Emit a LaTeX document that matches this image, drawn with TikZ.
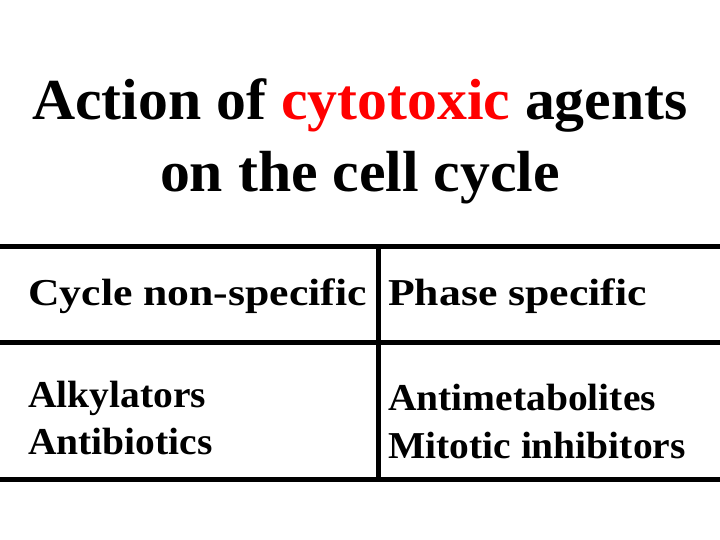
\documentclass[tikz,border=0pt]{standalone}
\usepackage{fontspec}
\setmainfont{Liberation Serif}
\begin{document}
\begin{tikzpicture}[x=1pt,y=-1pt,
  lbl/.style={anchor=base west,inner sep=0pt,font=\bfseries\fontsize{38}{40}\selectfont,xscale=1.04},
  head/.style={lbl,xscale=1.15/1.04},
  ttl/.style={anchor=base,inner sep=0pt,font=\bfseries\fontsize{58}{60}\selectfont,xscale=1.03},
  rule/.style={line width=5pt}]
\useasboundingbox[fill=white] (0,0) rectangle (720,540);
\node[ttl] (t1) at (360,120) {Action of \textcolor{red}{cytotoxic} agents};
\node[ttl] (t2) at (360,192) {on the cell cycle};
\coordinate (l1) at (0,246); \coordinate (r1) at (720,246);
\coordinate (l2) at (0,342); \coordinate (r2) at (720,342);
\coordinate (l3) at (0,479); \coordinate (r3) at (720,479);
\coordinate (vt) at (378,246); \coordinate (vb) at (378,479);
\draw[rule] (l1) -- (r1);
\draw[rule] (l2) -- (r2);
\draw[rule] (l3) -- (r3);
\draw[rule] (vt) -- (vb);
\node[lbl,xscale=1.106] (a) at (28,305) {Cycle non-specific};
\node[lbl,xscale=1.106] (b) at (388,305) {Phase specific};
\node[lbl] (c) at (28,407) {Alkylators};
\node[lbl] (d) at (28,454) {Antibiotics};
\node[lbl] (e) at (388,410) {Antimetabolites};
\node[lbl] (f) at (388,458) {Mitotic inhibitors};
\end{tikzpicture}
\end{document}
